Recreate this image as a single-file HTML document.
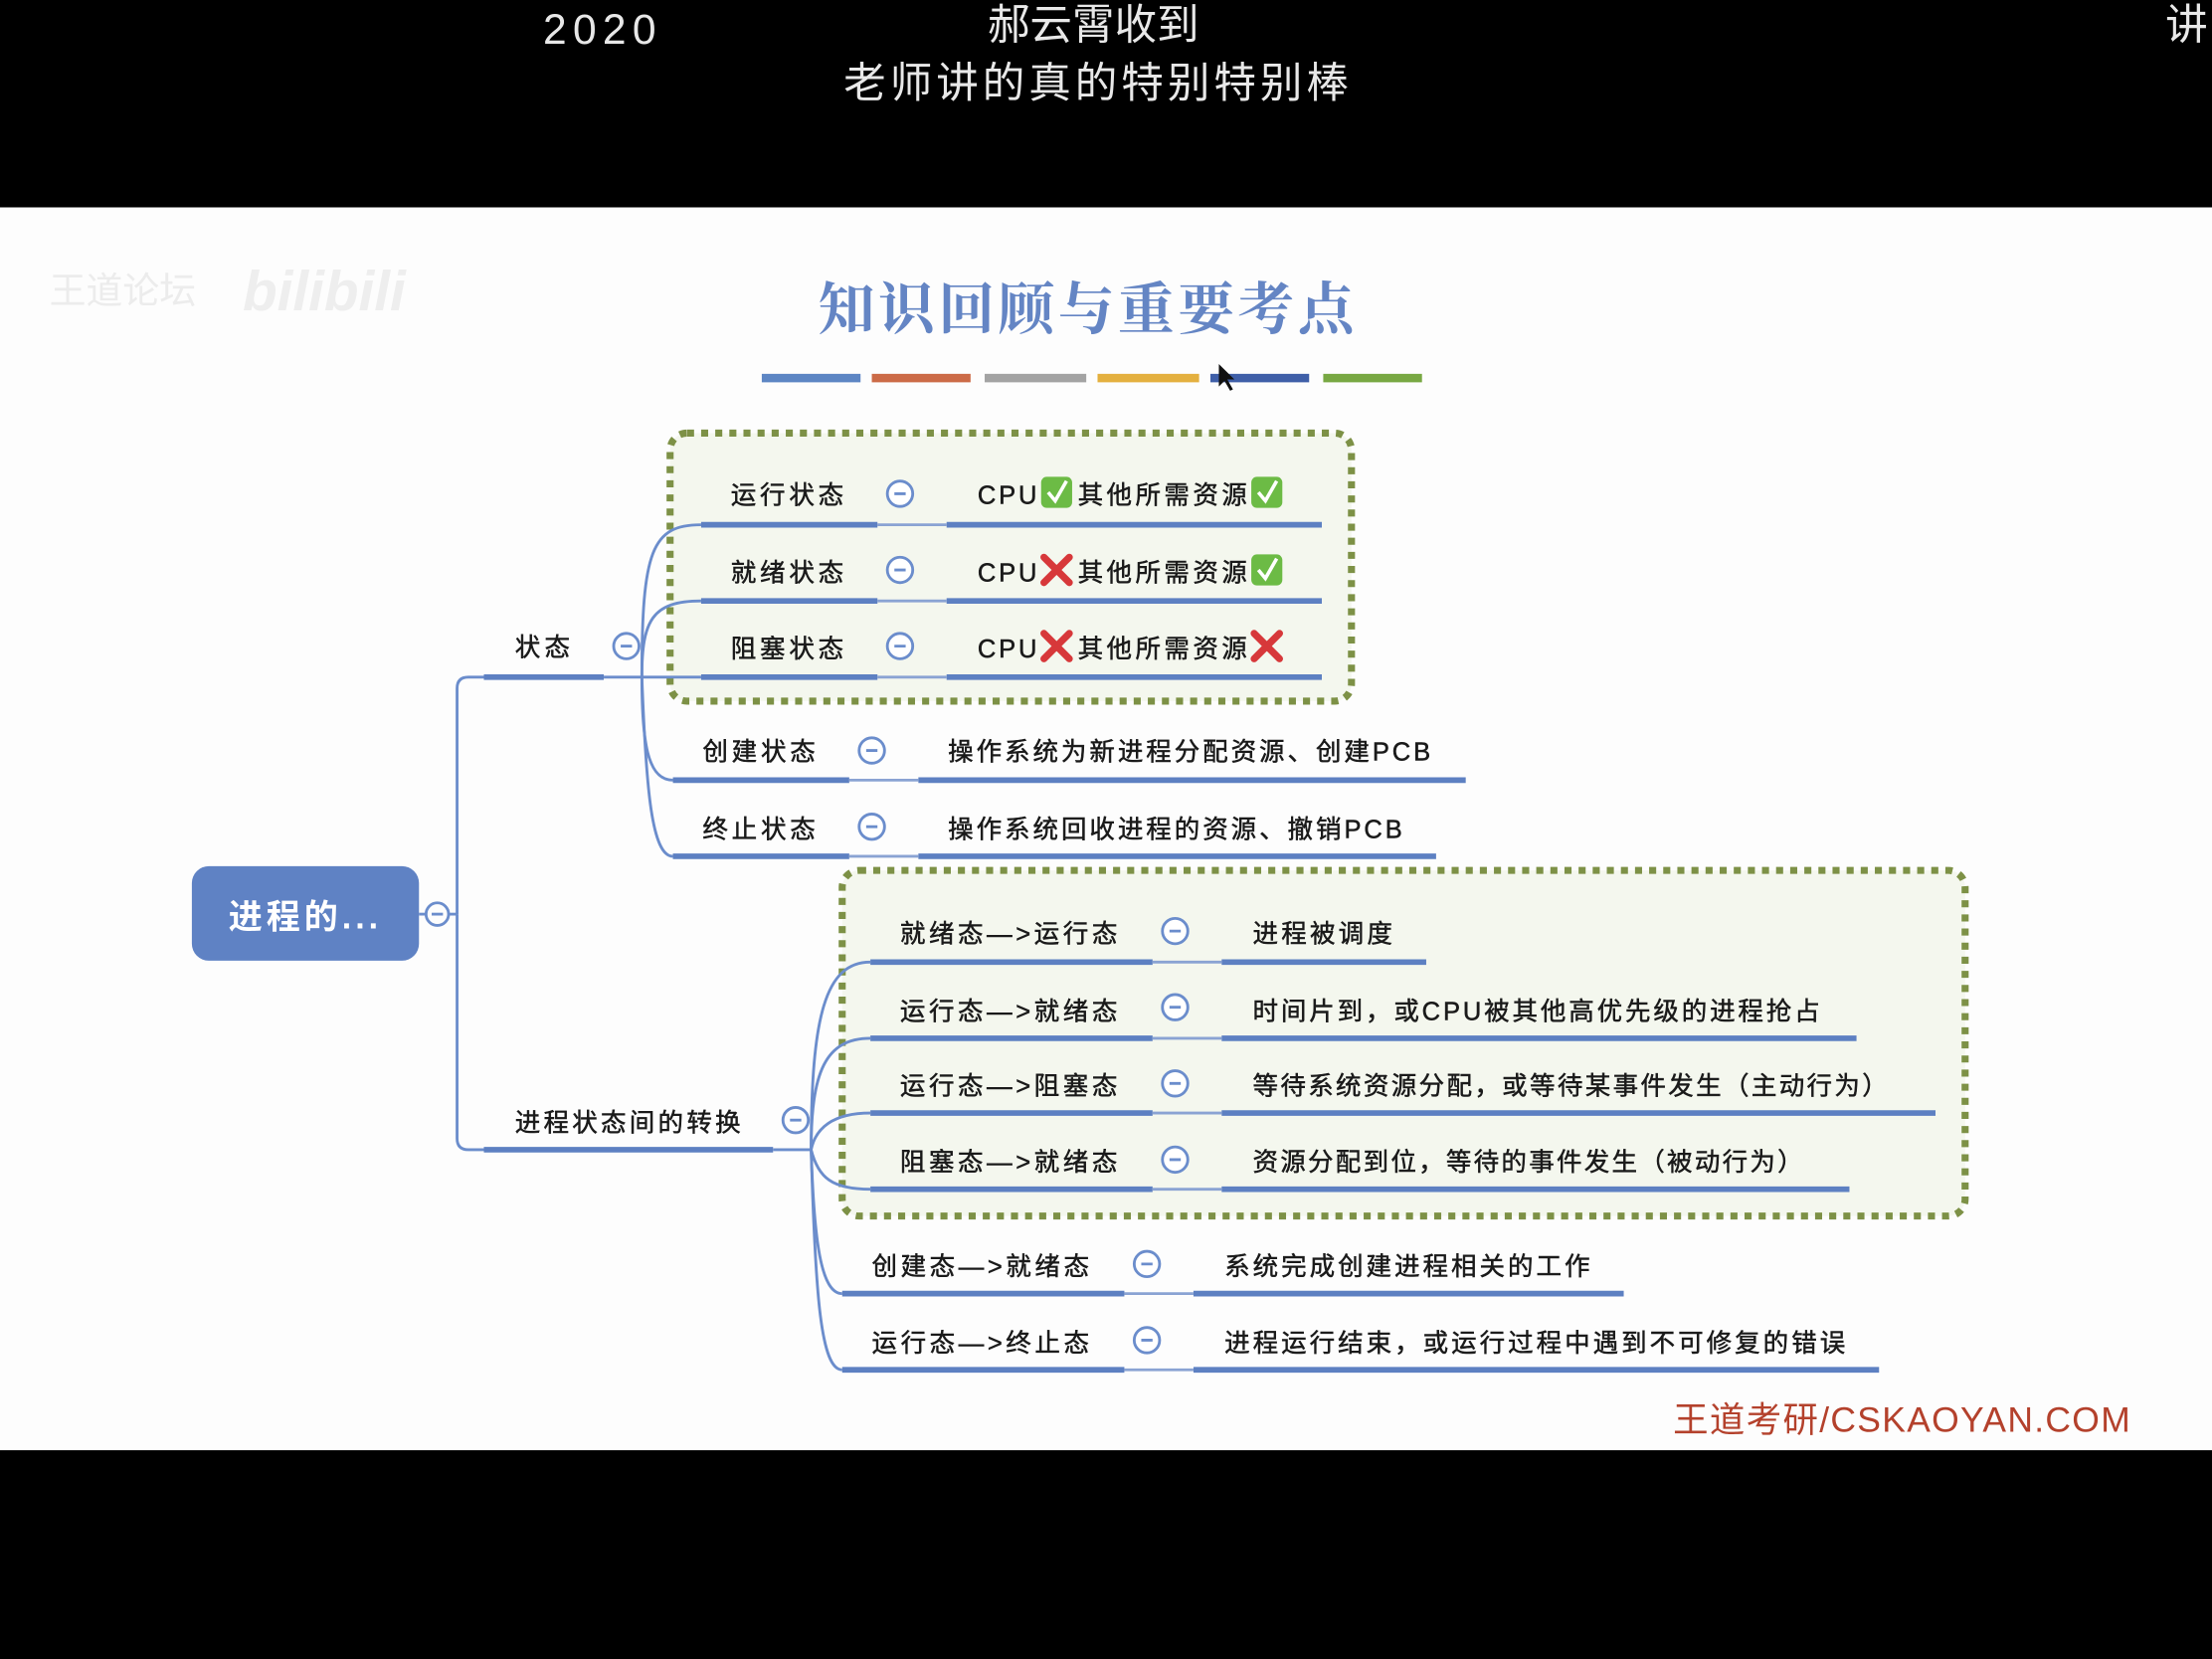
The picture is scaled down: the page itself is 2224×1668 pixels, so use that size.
<!DOCTYPE html>
<html><head><meta charset="utf-8"><style>
html,body{margin:0;padding:0;background:#000;}
svg{display:block}
text{font-family:"Liberation Sans","Noto Sans CJK SC",sans-serif;}
.t text{stroke:#1a1a1a;stroke-width:0.35;}
</style></head><body>
<svg width="2224" height="1668" viewBox="0 0 1568 1176" xmlns="http://www.w3.org/2000/svg">
<rect x="0" y="0" width="1568" height="1176" fill="#000"/>
<rect x="0" y="147" width="1568" height="881" fill="#fdfdfd"/>
<g fill="#e8e8e8" font-size="30">
<text x="385" y="31" textLength="80">2020</text>
<text x="775" y="28" text-anchor="middle">郝云霄收到</text>
<text x="598" y="69" textLength="358">老师讲的真的特别特别棒</text>
<text x="1535" y="28">讲</text>
</g>
<text x="35" y="215" font-size="26" fill="#ececec">王道论坛</text>
<text x="172" y="220" font-size="40" font-weight="bold" fill="#eeeeee" font-style="italic">bilibili</text>
<text x="580" y="233" font-size="40" fill="#6485c4" textLength="380" style="font-family:'Noto Serif CJK SC',serif;font-weight:bold">知识回顾与重要考点</text>
<g>
<rect x="540" y="265" width="70" height="6" fill="#5d86c4"/>
<rect x="618" y="265" width="70" height="6" fill="#cc6b47"/>
<rect x="698" y="265" width="72" height="6" fill="#a3a3a3"/>
<rect x="778" y="265" width="72" height="6" fill="#e4b03f"/>
<rect x="858" y="265" width="70" height="6" fill="#3f5fa8"/>
<rect x="938" y="265" width="70" height="6" fill="#78a843"/>
</g>
<path d="M864 258 L864 274 L868 270 L872 277 L874 276 L870 269 L875 269 Z" fill="#111"/>
<rect x="475" y="307" width="483" height="190" rx="12" fill="#f4f7ee" stroke="#7d9146" stroke-width="5" stroke-dasharray="5 5"/>
<rect x="597" y="617" width="796" height="245" rx="12" fill="#f4f7ee" stroke="#7d9146" stroke-width="5" stroke-dasharray="5 5"/>
<rect x="136" y="614" width="161" height="67" rx="12" fill="#5f82c4"/>
<text x="162" y="658" font-size="24" font-weight="bold" fill="#fff" textLength="106">进程的...</text>
<g fill="none" stroke="#6b8dcc" stroke-width="2">
<circle cx="310" cy="648" r="8"/>
<path d="M306 648 L314 648"/>
<path d="M297 648 L302 648"/>
<path d="M318 648 L324 648"/>
<path d="M324 648 L324 488 Q324 480 332 480 L343 480"/>
<path d="M324 648 L324 807 Q324 815 332 815 L343 815"/>
<path d="M428 480 L455 480"/>
<path d="M455 480 C455 390 462 372 497 372"/>
<path d="M455 480 C455 440 462 426 497 426"/>
<path d="M455 480 L497 480"/>
<path d="M455 480 C455 530 460 553 477 553"/>
<path d="M455 480 C458 560 462 607 477 607"/>
<path d="M548 815 L575 815"/>
<path d="M575 815 C575 720 585 682 617 682"/>
<path d="M575 815 C575 760 585 736 617 736"/>
<path d="M575 815 C578 800 590 789 617 789"/>
<path d="M575 815 C580 835 590 843 617 843"/>
<path d="M575 815 C577 880 582 917 597 917"/>
<path d="M575 815 C578 920 582 971 597 971"/>
</g>
<g stroke="#5d80c2" stroke-width="4" fill="none">
<path d="M343 480 L428 480"/>
<path d="M343 815 L548 815"/>
</g>
<g font-size="18" fill="#1a1a1a" class="t">
<text x="365" y="465" textLength="39">状态</text>
<text x="365" y="802" textLength="160">进程状态间的转换</text>
</g>
<g fill="none" stroke="#6b8dcc" stroke-width="2">
<circle cx="444" cy="458" r="9"/><path d="M440 458 L448 458"/>
<circle cx="564" cy="794" r="9"/><path d="M560 794 L568 794"/>
</g>
<g font-size="18" fill="#1a1a1a" class="t">
<text x="518" y="357" textLength="80">运行状态</text>
<text x="518" y="412" textLength="80">就绪状态</text>
<text x="518" y="466" textLength="80">阻塞状态</text>
<text x="498" y="539" textLength="80">创建状态</text>
<text x="498" y="594" textLength="80">终止状态</text>
<text x="693" y="357" textLength="42">CPU</text><text x="764" y="357" textLength="120">其他所需资源</text>
<text x="693" y="412" textLength="42">CPU</text><text x="764" y="412" textLength="120">其他所需资源</text>
<text x="693" y="466" textLength="42">CPU</text><text x="764" y="466" textLength="120">其他所需资源</text>
<text x="672" y="539" textLength="342">操作系统为新进程分配资源、创建PCB</text>
<text x="672" y="594" textLength="322">操作系统回收进程的资源、撤销PCB</text>
<text x="638" y="668" textLength="154">就绪态—&gt;运行态</text>
<text x="638" y="723" textLength="154">运行态—&gt;就绪态</text>
<text x="638" y="776" textLength="154">运行态—&gt;阻塞态</text>
<text x="638" y="830" textLength="154">阻塞态—&gt;就绪态</text>
<text x="618" y="904" textLength="154">创建态—&gt;就绪态</text>
<text x="618" y="958" textLength="154">运行态—&gt;终止态</text>
<text x="888" y="668" textLength="99">进程被调度</text>
<text x="888" y="723" textLength="402">时间片到，或CPU被其他高优先级的进程抢占</text>
<text x="888" y="776" textLength="450">等待系统资源分配，或等待某事件发生（主动行为）</text>
<text x="888" y="830" textLength="390">资源分配到位，等待的事件发生（被动行为）</text>
<text x="868" y="904" textLength="259">系统完成创建进程相关的工作</text>
<text x="868" y="958" textLength="440">进程运行结束，或运行过程中遇到不可修复的错误</text>
</g>
<g>
<rect x="738" y="338" width="22" height="22" rx="4" fill="#6cbb45"/><path d="M743 349 L748 355 L756 341" stroke="#fff" stroke-width="2.5" fill="none"/>
<rect x="887" y="338" width="22" height="22" rx="4" fill="#6cbb45"/><path d="M892 349 L897 355 L905 341" stroke="#fff" stroke-width="2.5" fill="none"/>
<rect x="887" y="393" width="22" height="22" rx="4" fill="#6cbb45"/><path d="M892 404 L897 410 L905 396" stroke="#fff" stroke-width="2.5" fill="none"/>
<g stroke="#d7383a" stroke-width="5" stroke-linecap="round">
<path d="M740 395 L758 413 M758 395 L740 413"/>
<path d="M740 449 L758 467 M758 449 L740 467"/>
<path d="M889 449 L907 467 M907 449 L889 467"/>
</g>
</g>
<g stroke="#5d80c2" stroke-width="4">
<path d="M497 372 H622 M671 372 H937"/>
<path d="M497 426 H622 M671 426 H937"/>
<path d="M497 480 H622 M671 480 H937"/>
<path d="M477 553 H602 M651 553 H1039"/>
<path d="M477 607 H602 M651 607 H1018"/>
<path d="M617 682 H817 M866 682 H1011"/>
<path d="M617 736 H817 M866 736 H1316"/>
<path d="M617 789 H817 M866 789 H1372"/>
<path d="M617 843 H817 M866 843 H1311"/>
<path d="M597 917 H797 M846 917 H1151"/>
<path d="M597 971 H797 M846 971 H1332"/>
</g>
<g stroke="#8aa3d3" stroke-width="2">
<path d="M622 372 H671 M622 426 H671 M622 480 H671 M602 553 H651 M602 607 H651"/>
<path d="M817 682 H866 M817 736 H866 M817 789 H866 M817 843 H866 M797 917 H846 M797 971 H846"/>
</g>
<g fill="#fff" stroke="#6b8dcc" stroke-width="2">
<circle cx="638" cy="350" r="9"/><circle cx="638" cy="404" r="9"/><circle cx="638" cy="458" r="9"/>
<circle cx="618" cy="532" r="9"/><circle cx="618" cy="586" r="9"/>
<circle cx="833" cy="660" r="9"/><circle cx="833" cy="714" r="9"/><circle cx="833" cy="768" r="9"/><circle cx="833" cy="822" r="9"/>
<circle cx="813" cy="896" r="9"/><circle cx="813" cy="950" r="9"/>
</g>
<g stroke="#6b8dcc" stroke-width="2">
<path d="M634 350 H642 M634 404 H642 M634 458 H642 M614 532 H622 M614 586 H622"/>
<path d="M829 660 H837 M829 714 H837 M829 768 H837 M829 822 H837 M809 896 H817 M809 950 H817"/>
</g>
<text x="1186" y="1015" font-size="25" fill="#b4412c" textLength="324">王道考研/CSKAOYAN.COM</text>
</svg>
</body></html>
